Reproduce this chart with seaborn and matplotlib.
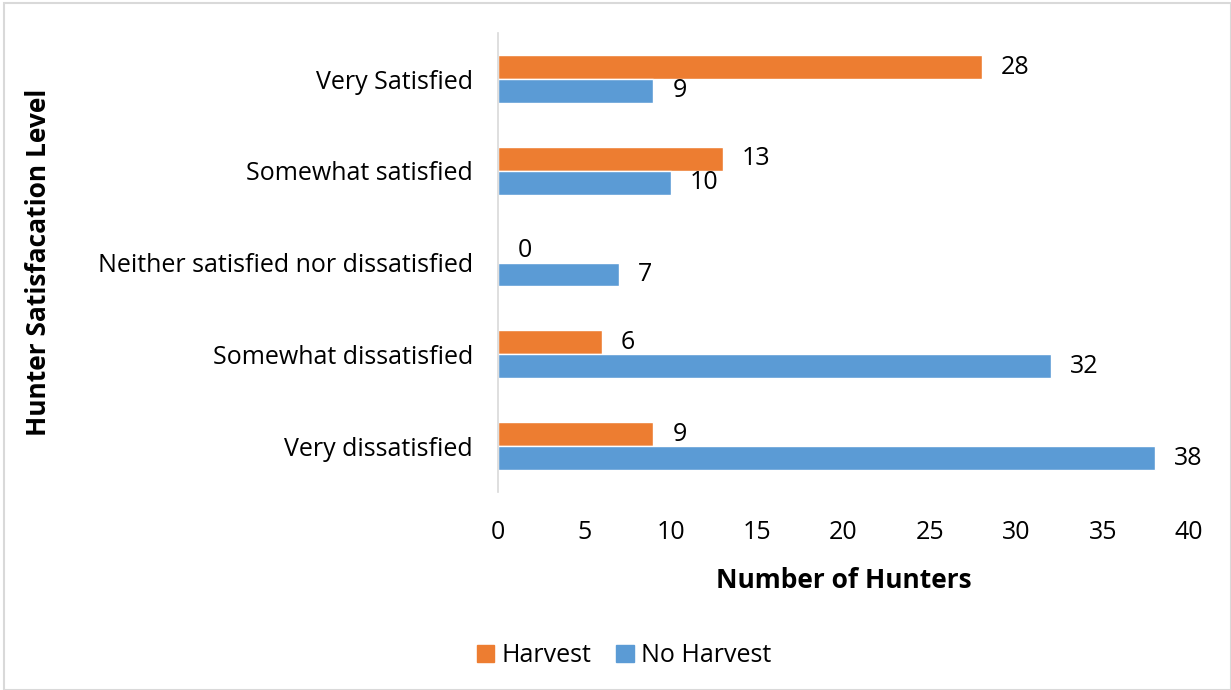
import pandas as pd
import numpy as np
import matplotlib.pyplot as plt
import seaborn as sns
from matplotlib.patches import Rectangle

sns.set_theme(style="white")
plt.rcParams['font.family'] = ['Open Sans', 'DejaVu Sans']
plt.rcParams['text.color'] = 'black'
plt.rcParams['xtick.color'] = 'black'
plt.rcParams['ytick.color'] = 'black'
plt.rcParams['axes.labelcolor'] = 'black'

levels = ['Very Satisfied', 'Somewhat satisfied', 'Neither satisfied nor dissatisfied',
          'Somewhat dissatisfied', 'Very dissatisfied']
harvest = [28, 13, 0, 6, 9]
no_harvest = [9, 10, 7, 32, 38]
groups = ['Harvest', 'No Harvest']
colors = ['#ed7d31', '#5b9bd5']

df = pd.DataFrame({
    'level': levels * 2,
    'count': harvest + no_harvest,
    'group': [groups[0]] * len(levels) + [groups[1]] * len(levels),
})

fig = plt.figure(figsize=(12.31, 6.9), dpi=100)
ax = fig.add_axes([0.4045, 0.287, 0.5615, 0.665])

sns.barplot(data=df, y='level', x='count', hue='group', order=levels,
            hue_order=groups, palette=colors, width=0.52, orient='h',
            saturation=1, ax=ax, legend=True)

for cont in ax.containers:
    ax.bar_label(cont, padding=14, fontsize=18, color='black')

ax.set_xlim(0, 40)
ax.set_xticks(range(0, 41, 5))
ax.set_ylim(4.5, -0.5)
ax.tick_params(axis='x', labelsize=18, pad=20, length=0)
ax.tick_params(axis='y', labelsize=18, pad=18, length=0)
ax.set_xlabel('Number of Hunters', fontsize=19, fontweight='bold', labelpad=16)
ax.set_ylabel('Hunter Satisfacation Level', fontsize=19, fontweight='bold', labelpad=0)
ax.yaxis.set_label_coords(-0.645, 0.5)

for s in ['top', 'right', 'bottom']:
    ax.spines[s].set_visible(False)
ax.spines['left'].set_color('#d9d9d9')
ax.spines['left'].set_linewidth(1.2)

ax.legend_.remove()
handles = [Rectangle((0, 0), 1, 1, color=c) for c in colors]
fig.legend(handles, groups, loc='center', bbox_to_anchor=(0.507, 0.05), ncol=2,
           frameon=False, fontsize=18, handlelength=0.7, handleheight=0.7,
           handletextpad=0.3, columnspacing=1.0)

fig.patches.append(Rectangle((0.003, 0.0), 0.997, 0.995, transform=fig.transFigure,
                             fill=False, edgecolor='#d9d9d9', linewidth=1.5))

fig.savefig('out.png', dpi=100)
